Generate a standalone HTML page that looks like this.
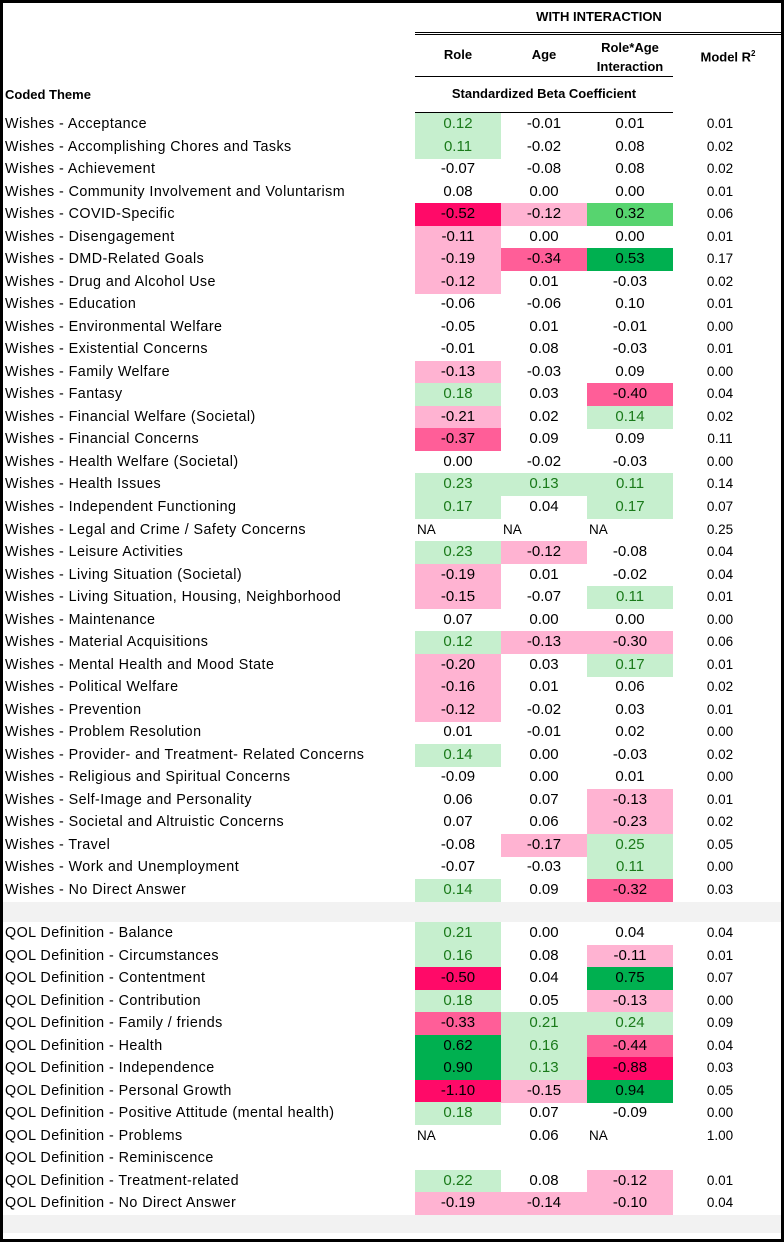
<!DOCTYPE html>
<html><head><meta charset="utf-8">
<style>
body{margin:0;background:#fff;}
#t{position:relative;width:784px;height:1242px;overflow:hidden;font-family:"Liberation Sans",sans-serif;color:#000;}
#frame{position:absolute;left:0;top:0;width:778px;height:1236px;border:3px solid #000;}
.a{position:absolute;white-space:nowrap;}
.c{position:absolute;text-align:center;font-size:15px;line-height:22px;}
.lab{position:absolute;left:5px;font-size:14.3px;line-height:22px;letter-spacing:0.45px;}
.b{font-weight:bold;font-size:13px;}
</style></head><body>
<div id="t">
<div id="frame"></div>
<div class="a" style="left:3px;top:902px;width:778px;height:20px;background:#f2f2f2"></div>
<div class="a" style="left:3px;top:1215px;width:778px;height:18px;background:#f2f2f2"></div>
<div class="a b" style="left:415px;width:368px;text-align:center;top:9px">WITH INTERACTION</div>
<div class="a" style="left:415px;top:32px;width:368px;height:1px;border-top:1px solid #000;border-bottom:1px solid #000"></div>
<div class="a b" style="left:415px;width:86px;text-align:center;top:47px">Role</div>
<div class="a b" style="left:501px;width:86px;text-align:center;top:47px">Age</div>
<div class="a b" style="left:587px;width:86px;text-align:center;top:38px;line-height:19px">Role*Age<br>Interaction</div>
<div class="a b" style="left:673px;width:110px;text-align:center;top:49px">Model R<sup style="font-size:8px">2</sup></div>
<div class="a" style="left:415px;top:76px;width:258px;height:1px;background:#000"></div>
<div class="a b" style="left:415px;width:258px;text-align:center;top:86px">Standardized Beta Coefficient</div>
<div class="a" style="left:415px;top:112px;width:258px;height:1px;background:#000"></div>
<div class="a b" style="left:5px;top:87px">Coded Theme</div>
</div>
<script>
const labels=["Wishes - Acceptance","Wishes - Accomplishing Chores and Tasks","Wishes - Achievement","Wishes - Community Involvement and Voluntarism","Wishes - COVID-Specific","Wishes - Disengagement","Wishes - DMD-Related Goals","Wishes - Drug and Alcohol Use","Wishes - Education","Wishes - Environmental Welfare","Wishes - Existential Concerns","Wishes - Family Welfare","Wishes - Fantasy","Wishes - Financial Welfare (Societal)","Wishes - Financial Concerns","Wishes - Health Welfare (Societal)","Wishes - Health Issues","Wishes - Independent Functioning","Wishes - Legal and Crime / Safety Concerns","Wishes - Leisure Activities","Wishes - Living Situation (Societal)","Wishes - Living Situation, Housing, Neighborhood","Wishes - Maintenance","Wishes - Material Acquisitions","Wishes - Mental Health and Mood State","Wishes - Political Welfare","Wishes - Prevention","Wishes - Problem Resolution","Wishes - Provider- and Treatment- Related Concerns","Wishes - Religious and Spiritual Concerns","Wishes - Self-Image and Personality","Wishes - Societal and Altruistic Concerns","Wishes - Travel","Wishes - Work and Unemployment","Wishes - No Direct Answer",
"QOL Definition - Balance","QOL Definition - Circumstances","QOL Definition - Contentment","QOL Definition - Contribution","QOL Definition - Family / friends","QOL Definition - Health","QOL Definition - Independence","QOL Definition - Personal Growth","QOL Definition - Positive Attitude (mental health)","QOL Definition - Problems","QOL Definition - Reminiscence","QOL Definition - Treatment-related","QOL Definition - No Direct Answer"];
const role=["0.12","0.11","-0.07","0.08","-0.52","-0.11","-0.19","-0.12","-0.06","-0.05","-0.01","-0.13","0.18","-0.21","-0.37","0.00","0.23","0.17","NA","0.23","-0.19","-0.15","0.07","0.12","-0.20","-0.16","-0.12","0.01","0.14","-0.09","0.06","0.07","-0.08","-0.07","0.14",
"0.21","0.16","-0.50","0.18","-0.33","0.62","0.90","-1.10","0.18","NA","","0.22","-0.19"];
const age=["-0.01","-0.02","-0.08","0.00","-0.12","0.00","-0.34","0.01","-0.06","0.01","0.08","-0.03","0.03","0.02","0.09","-0.02","0.13","0.04","NA","-0.12","0.01","-0.07","0.00","-0.13","0.03","0.01","-0.02","-0.01","0.00","0.00","0.07","0.06","-0.17","-0.03","0.09",
"0.00","0.08","0.04","0.05","0.21","0.16","0.13","-0.15","0.07","0.06","","0.08","-0.14"];
const inter=["0.01","0.08","0.08","0.00","0.32","0.00","0.53","-0.03","0.10","-0.01","-0.03","0.09","-0.40","0.14","0.09","-0.03","0.11","0.17","NA","-0.08","-0.02","0.11","0.00","-0.30","0.17","0.06","0.03","0.02","-0.03","0.01","-0.13","-0.23","0.25","0.11","-0.32",
"0.04","-0.11","0.75","-0.13","0.24","-0.44","-0.88","0.94","-0.09","NA","","-0.12","-0.10"];
const r2=["0.01","0.02","0.02","0.01","0.06","0.01","0.17","0.02","0.01","0.00","0.01","0.00","0.04","0.02","0.11","0.00","0.14","0.07","0.25","0.04","0.04","0.01","0.00","0.06","0.01","0.02","0.01","0.00","0.02","0.00","0.01","0.02","0.05","0.00","0.03",
"0.04","0.01","0.07","0.00","0.09","0.04","0.03","0.05","0.00","1.00","","0.01","0.04"];
// significance shading category per cell (role, age, interaction)
const sig=["g..","g..","...","...","rpm","p..","pqd","p..","...","...","...","p..","g.q","p.g","q..","...","ggg","g.g","...","gp.","p..","p.g","...","gpp","p.g","p..","p..","...","g..","...","..p","..p",".pg","..g","g.q",
"g..","g.p","r.d","g.p","qgg","dgq","dgr","rpd","g..","...","...","g.p","ppp"];
const fills={".":"transparent",g:"#c6efce",m:"#57d46f",d:"#00b050",p:"#ffb3d2",q:"#ff5e98",r:"#ff0a68"};
const T=document.getElementById('t');
const RH=22.53, colX=[415,501,587], colW=86;
function rowY(i){return i<35?113+i*RH:922+(i-35)*RH;}
const cols=[role,age,inter];
const colNames=['role','age','interaction'];
labels.forEach((lab,i)=>{
  const y=rowY(i);
  const l=document.createElement('div');
  l.className='lab';l.style.top=(y)+'px';l.textContent=lab;
  
  
  T.appendChild(l);
  cols.forEach((arr,j)=>{
    const s=sig[i][j];
    const c=document.createElement('div');
    c.className='c';
    c.style.left=colX[j]+'px';c.style.width=colW+'px';c.style.top=y+'px';c.style.height=Math.ceil(RH)+'px';
    c.style.background=fills[s];
    c.style.color=s==='g'?'#1a7a1a':'#000';
    c.textContent=arr[i];
    if(arr[i]==='NA'){c.style.textAlign='left';c.style.paddingLeft='2px';c.style.width=(colW-2)+'px';c.style.fontSize='13.5px';}
    
    
    T.appendChild(c);
  });
  const r=document.createElement('div');
  r.className='c';r.style.left='673px';r.style.width='94px';r.style.top=y+'px';r.style.fontSize='13.5px';
  r.textContent=r2[i];
  
  
  T.appendChild(r);
});
</script>
</body></html>
